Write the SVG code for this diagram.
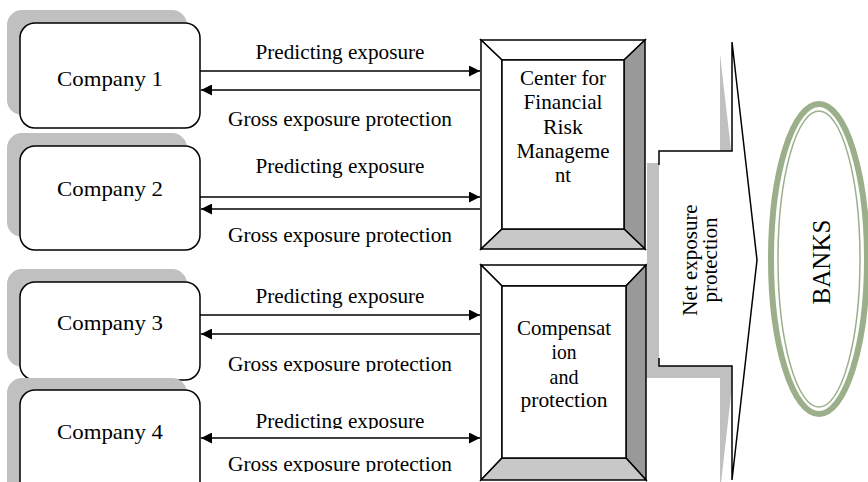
<svg xmlns="http://www.w3.org/2000/svg" width="868" height="482" viewBox="0 0 868 482">
<style>
.t{font-family:"Liberation Serif","Times New Roman",serif;font-size:21px;fill:#000;text-anchor:middle}
.box{fill:#fff;stroke:#000;stroke-width:1.5}
.sh{fill:#c0c0c0}
.ln{stroke:#000;stroke-width:1.3;fill:none}
.bv{stroke:#000;stroke-width:1.5;stroke-linejoin:miter}
</style>
<defs>
<marker id="ah" viewBox="0 0 10 10" refX="10" refY="5" markerWidth="11" markerHeight="11" markerUnits="userSpaceOnUse" orient="auto-start-reverse">
<path d="M0,0 L10,5 L0,10 Z" fill="#000"/>
</marker>
<clipPath id="c3"><rect x="200" y="350" width="280" height="22"/></clipPath>
<clipPath id="c4a"><rect x="200" y="405" width="280" height="24"/></clipPath>
<clipPath id="c4b"><rect x="200" y="448" width="280" height="24"/></clipPath>
</defs>
<rect width="868" height="482" fill="#fff"/>

<g id="company1">
<rect class="sh" x="7" y="10" width="180" height="105" rx="15"/>
<rect class="box" x="20" y="23" width="180" height="105" rx="15"/>
<text class="t" x="110" y="86" textLength="106" lengthAdjust="spacingAndGlyphs">Company 1</text>
</g>
<g id="company2">
<rect class="sh" x="7" y="133" width="180" height="104" rx="15"/>
<rect class="box" x="20" y="146" width="180" height="104" rx="15"/>
<text class="t" x="110" y="196" textLength="106" lengthAdjust="spacingAndGlyphs">Company 2</text>
</g>
<g id="company3">
<rect class="sh" x="7" y="269" width="180" height="98" rx="15"/>
<rect class="box" x="20" y="282" width="180" height="98" rx="15"/>
<text class="t" x="110" y="330" textLength="106" lengthAdjust="spacingAndGlyphs">Company 3</text>
</g>
<g id="company4">
<rect class="sh" x="7" y="378" width="180" height="130" rx="15"/>
<rect class="box" x="20" y="390" width="180" height="130" rx="15"/>
<text class="t" x="110" y="439" textLength="106" lengthAdjust="spacingAndGlyphs">Company 4</text>
</g>

<g id="center-frm">
<rect x="481" y="40" width="164" height="209" fill="#fff"/>
<polygon class="bv" points="481,40 645,40 624,60 502,60" fill="#fff"/>
<polygon class="bv" points="481,40 502,60 502,229 481,249" fill="#fff"/>
<polygon class="bv" points="645,40 645,249 624,229 624,60" fill="#999"/>
<polygon class="bv" points="481,249 502,229 624,229 645,249" fill="#c8c8c8"/>
<rect class="bv" x="502" y="60" width="122" height="169" fill="#fff"/>
<text class="t" x="563" y="85" textLength="86" lengthAdjust="spacingAndGlyphs">Center for</text>
<text class="t" x="563" y="109" textLength="79" lengthAdjust="spacingAndGlyphs">Financial</text>
<text class="t" x="563" y="133.5" textLength="40" lengthAdjust="spacingAndGlyphs">Risk</text>
<text class="t" x="563" y="158" textLength="93" lengthAdjust="spacingAndGlyphs">Manageme</text>
<text class="t" x="563" y="182" textLength="16" lengthAdjust="spacingAndGlyphs">nt</text>
</g>

<g id="compensation">
<polygon class="bv" points="481,265 646,265 626,286 502,286" fill="#fff"/>
<polygon class="bv" points="481,265 502,286 502,458 481,480" fill="#fff"/>
<polygon class="bv" points="646,265 646,480 626,458 626,286" fill="#999"/>
<polygon class="bv" points="481,480 502,458 626,458 646,480" fill="#c8c8c8"/>
<rect class="bv" x="502" y="286" width="124" height="172" fill="#fff"/>
<text class="t" x="564" y="335" textLength="94" lengthAdjust="spacingAndGlyphs">Compensat</text>
<text class="t" x="564" y="359" textLength="25" lengthAdjust="spacingAndGlyphs">ion</text>
<text class="t" x="564" y="384" textLength="29" lengthAdjust="spacingAndGlyphs">and</text>
<text class="t" x="564" y="407" textLength="87" lengthAdjust="spacingAndGlyphs">protection</text>
</g>

<g id="net-exposure">
<polygon class="sh" points="647,163 720,163 720,54 745,272 720,492 720,378 647,378"/>
<polygon fill="#fff" points="659,151 732,151 732,42 757,260 732,480 732,366 659,366"/>
<polyline points="659,165 659,151 732,151 732,42 757,260 732,480 732,366 659,366 659,358" fill="none" stroke="#000" stroke-width="1.5"/>
<text class="t" transform="translate(697,260) rotate(-90)">Net exposure</text>
<text class="t" transform="translate(717,260) rotate(-90)">protection</text>
</g>

<g id="banks">
<ellipse cx="819" cy="259" rx="48" ry="155" fill="#fff" stroke="#9bb08a" stroke-width="6"/>
<ellipse cx="819" cy="259" rx="41" ry="148" fill="none" stroke="#9bb08a" stroke-width="1.5"/>
<text class="t" style="font-size:25px" transform="translate(830,262) rotate(-90)">BANKS</text>
</g>

<g id="connectors">
<line class="ln" x1="200" y1="71" x2="480" y2="71" marker-end="url(#ah)"/>
<line class="ln" x1="480" y1="90" x2="201" y2="90" marker-end="url(#ah)"/>
<line class="ln" x1="200" y1="197" x2="480" y2="197" marker-end="url(#ah)"/>
<line class="ln" x1="480" y1="209" x2="201" y2="209" marker-end="url(#ah)"/>
<line class="ln" x1="200" y1="315" x2="480" y2="315" marker-end="url(#ah)"/>
<line class="ln" x1="480" y1="334" x2="201" y2="334" marker-end="url(#ah)"/>
<line class="ln" x1="201" y1="438" x2="480" y2="438" marker-start="url(#ah)" marker-end="url(#ah)"/>
<text class="t" x="340" y="59" textLength="169" lengthAdjust="spacingAndGlyphs">Predicting exposure</text>
<text class="t" x="340" y="126" textLength="224" lengthAdjust="spacingAndGlyphs">Gross exposure protection</text>
<text class="t" x="340" y="173" textLength="169" lengthAdjust="spacingAndGlyphs">Predicting exposure</text>
<text class="t" x="340" y="242" textLength="224" lengthAdjust="spacingAndGlyphs">Gross exposure protection</text>
<text class="t" x="340" y="303" textLength="169" lengthAdjust="spacingAndGlyphs">Predicting exposure</text>
<text class="t" x="340" y="371" clip-path="url(#c3)" textLength="224" lengthAdjust="spacingAndGlyphs">Gross exposure protection</text>
<text class="t" x="340" y="428" clip-path="url(#c4a)" textLength="169" lengthAdjust="spacingAndGlyphs">Predicting exposure</text>
<text class="t" x="340" y="471" clip-path="url(#c4b)" textLength="224" lengthAdjust="spacingAndGlyphs">Gross exposure protection</text>
</g>
</svg>
